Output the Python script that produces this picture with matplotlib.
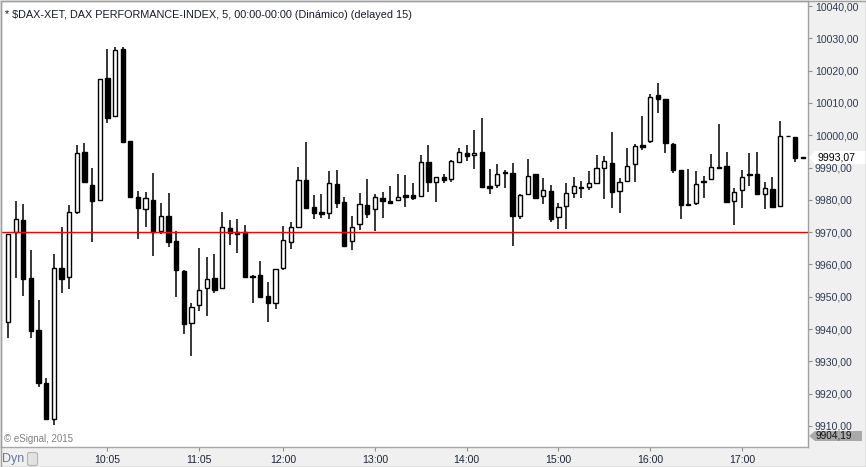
import numpy as np
import matplotlib.pyplot as plt
from matplotlib.patches import Polygon, Rectangle, FancyBboxPatch
from matplotlib.ticker import FuncFormatter

plt.rcParams['font.family'] = ['Liberation Sans', 'DejaVu Sans']

# 5-minute bars, 09:00 .. 17:40
opens = [9942.3, 9970.1, 9973.7, 9955.7, 9939.7, 9923.4, 9912.2, 9958.8, 9956.2, 9976.3,
         9994.7, 9984.6, 9979.8, 10017.6, 10005.9, 10026.6, 9998.2, 9980.8, 9977.1, 9979.8,
         9970.3, 9974.9, 9967.1, 9957.9, 9941.8, 9947.3, 9952.6, 9955.7, 9952.6, 9971.2,
         9969.9, 9969.9, 9956.5, 9956.6, 9950.1, 9948.1, 9958.8, 9966.8, 9971.7, 9986.0,
         9977.7, 9976.1, 9975.8, 9984.8, 9979.2, 9967.2, 9972.4, 9978.3, 9977.1, 9980.5,
         9979.5, 9979.8, 9981.4, 9981.4, 9981.1, 9991.7, 9985.4, 9987.0, 9986.4, 9991.8,
         9994.5, 9993.8, 9994.8, 9984.3, 9984.5, 9988.7, 9988.3, 9975.0, 9981.7, 9988.0,
         9981.1, 9982.8, 9974.6, 9978.0, 9982.1, 9983.9, 9983.9, 9985.3, 9989.7, 9991.3,
         9982.6, 9985.7, 9991.0, 9996.9, 9998.3, 10012.4, 10011.2, 9997.3, 9989.2, 9978.7,
         9978.9, 9985.7, 9986.4, 9990.3, 9990.5, 9979.5, 9983.0, 9988.0, 9988.0, 9981.7,
         9983.2, 9978.0, 9999.9, 9999.4, 9993.07]
highs = [9969.5, 9979.6, 9978.7, 9964.5, 9949.0, 9924.7, 9963.1, 9971.6, 9978.4, 9996.9,
         9997.6, 9989.8, 10017.5, 10026.7, 10027.3, 10027.3, 9998.2, 9982.7, 9982.4, 9988.3,
         9979.0, 9982.1, 9970.3, 9958.3, 9948.0, 9965.1, 9962.3, 9963.2, 9976.2, 9973.7,
         9974.1, 9972.2, 9956.6, 9961.1, 9954.5, 9958.6, 9971.9, 9973.1, 9990.2, 9997.9,
         9981.4, 9981.8, 9988.9, 9989.2, 9980.8, 9975.0, 9982.1, 9986.4, 9981.9, 9982.4,
         9984.3, 9988.0, 9987.7, 9985.2, 9993.8, 9997.1, 9987.0, 9988.0, 9992.2, 9996.1,
         9997.0, 10001.6, 10005.3, 9989.5, 9991.1, 9989.1, 9991.5, 9981.8, 9992.6, 9988.0,
         9986.7, 9984.6, 9978.9, 9985.1, 9987.1, 9985.8, 9988.9, 9993.9, 9993.6, 10001.0,
         9986.9, 9996.0, 9997.3, 10005.9, 10012.8, 10016.2, 10011.2, 9997.6, 9989.2, 9989.5,
         9988.9, 9987.4, 9994.2, 10003.5, 9994.8, 9983.7, 9989.2, 9994.6, 9994.8, 9985.5,
         9987.1, 10004.3, 9999.9, 9999.4, 9993.07]
lows = [9937.3, 9955.9, 9950.3, 9937.1, 9922.1, 9912.2, 9910.3, 9951.2, 9952.5, 9975.5,
        9985.6, 9966.9, 9979.8, 10003.7, 10005.9, 9997.7, 9981.0, 9967.8, 9971.7, 9962.7,
        9969.5, 9965.5, 9950.0, 9938.5, 9931.7, 9945.7, 9944.1, 9951.0, 9952.6, 9966.1,
        9963.5, 9956.1, 9948.1, 9949.7, 9942.3, 9946.3, 9958.4, 9964.9, 9971.4, 9977.2,
        9974.0, 9974.5, 9974.2, 9977.6, 9965.5, 9964.6, 9970.7, 9974.3, 9970.4, 9974.5,
        9979.1, 9979.8, 9977.9, 9980.0, 9981.1, 9982.5, 9979.2, 9985.1, 9985.4, 9991.3,
        9992.0, 9989.6, 9984.1, 9981.9, 9983.6, 9983.8, 9965.6, 9974.0, 9981.7, 9980.6,
        9978.8, 9973.2, 9970.9, 9970.9, 9980.7, 9980.7, 9983.0, 9985.0, 9980.4, 9977.6,
        9976.0, 9985.7, 9985.6, 9995.5, 9997.5, 10007.0, 9994.6, 9988.4, 9974.2, 9978.3,
        9978.5, 9980.7, 9986.4, 9990.0, 9978.9, 9972.3, 9977.6, 9984.4, 9981.4, 9977.1,
        9977.8, 9978.0, 9999.6, 9991.8, 9993.07]
closes = [9969.3, 9974.0, 9955.6, 9939.5, 9923.4, 9912.2, 9958.8, 9955.4, 9976.1, 9994.4,
          9985.6, 9979.7, 10017.3, 10005.4, 10026.3, 9998.0, 9981.0, 9977.4, 9980.5, 9970.0,
          9974.9, 9967.0, 9958.2, 9941.4, 9946.7, 9952.0, 9955.4, 9952.2, 9971.5, 9969.6,
          9969.5, 9956.1, 9956.2, 9950.0, 9948.1, 9958.5, 9967.5, 9971.5, 9986.0, 9977.6,
          9976.0, 9975.7, 9985.1, 9979.1, 9965.8, 9971.7, 9978.6, 9975.5, 9980.8, 9979.7,
          9979.1, 9980.8, 9981.0, 9980.6, 9991.6, 9985.6, 9987.0, 9986.2, 9991.9, 9994.7,
          9993.5, 9994.5, 9984.1, 9983.8, 9987.9, 9988.2, 9975.1, 9981.4, 9987.3, 9980.6,
          9983.0, 9974.1, 9977.7, 9982.0, 9984.2, 9983.6, 9985.1, 9989.7, 9992.0, 9982.5,
          9985.4, 9990.4, 9996.6, 9996.4, 10011.7, 10011.3, 9997.7, 9989.3, 9978.5, 9978.3,
          9984.8, 9985.4, 9990.3, 9990.0, 9979.4, 9982.3, 9987.0, 9987.6, 9981.8, 9983.6,
          9977.8, 9999.7, 9999.6, 9993.0, 9993.07]

time_ticks = [13, 25, 36, 48, 60, 72, 84, 96]
time_labels = ["10:05", "11:05", "12:00", "13:00", "14:00", "15:00", "16:00", "17:00"]
price_ticks = list(range(9910, 10041, 10))
ref_level = 9970
last_price = 9993.07
low_price = 9904.19

W, H = 866, 467
fig = plt.figure(figsize=(W / 100, H / 100), dpi=100, facecolor='#f0f0f0')
ax = fig.add_axes([1 / W, 20 / H, 807 / W, 446 / H])
ax.set_facecolor('white')

o = np.array(opens)
c = np.array(closes)
x = np.arange(len(o))
up = c >= o
body_lo = np.minimum(o, c)
body_h = np.maximum(np.abs(c - o), 0.25)

ax.vlines(x, lows, highs, color='black', linewidth=1.1, zorder=2)
ax.bar(x[up], body_h[up], bottom=body_lo[up], width=0.56, facecolor='white',
       edgecolor='black', linewidth=1.0, zorder=3)
ax.bar(x[~up], body_h[~up], bottom=body_lo[~up], width=0.56, facecolor='black',
       edgecolor='black', linewidth=1.0, zorder=3)

ax.axhline(ref_level, color='#ff0000', linewidth=1.0, zorder=4)

ax.set_xlim(-0.92, 104.66)
ax.set_ylim(9903.47, 10041.55)

ax.yaxis.tick_right()
ax.set_yticks(price_ticks)
ax.yaxis.set_major_formatter(FuncFormatter(lambda v, p: f"{v:.2f}".replace('.', ',')))
ax.tick_params(axis='y', direction='out', length=3, width=0.8, color='#909090',
               labelsize=7.6, labelcolor='#2f3a4f', pad=2)
ax.set_xticks(time_ticks)
ax.set_xticklabels(time_labels)
ax.tick_params(axis='x', direction='out', length=3, width=0.8, color='#909090',
               labelsize=7.6, labelcolor='#1e2535', pad=3)

for s in ['left', 'top', 'right']:
    ax.spines[s].set_color('#a0a0a0')
    ax.spines[s].set_linewidth(1.0)
ax.spines['bottom'].set_color('#a8a8a8')
ax.spines['bottom'].set_linestyle((0, (2, 1)))
ax.spines['bottom'].set_linewidth(1.0)

ax.text(4 / 807, 1 - 14 / 446, "* $DAX-XET, DAX PERFORMANCE-INDEX, 5, 00:00-00:00 (Dinámico) (delayed 15)",
        transform=ax.transAxes, fontsize=7.8, color='#151a2a', va='center', ha='left')
ax.text(3 / 807, 1 - 438 / 446, "© eSignal, 2015", transform=ax.transAxes,
        fontsize=7, color='#808080', va='center', ha='left')


def fpt(px, py):
    return (px / W, 1 - py / H)


# last price marker
yc = 157.5
box = [fpt(809, yc), fpt(815, yc - 6.5), fpt(866, yc - 6.5), fpt(866, yc + 6.5), fpt(815, yc + 6.5)]
fig.add_artist(Polygon(box, closed=True, facecolor='white', edgecolor='none',
                       transform=fig.transFigure, zorder=5))
fig.text(*fpt(817, yc), f"{last_price:.2f}".replace('.', ','), fontsize=7.6,
         color='black', va='center', ha='left', zorder=6)

# low marker
yl = 436
box = [fpt(809, yl), fpt(815, yl - 5), fpt(862, yl - 5), fpt(862, yl + 5), fpt(815, yl + 5)]
fig.add_artist(Polygon(box, closed=True, facecolor='#a9a9a9', edgecolor='none',
                       transform=fig.transFigure, zorder=5))
fig.text(*fpt(816, yl), f"{low_price:.2f}".replace('.', ','), fontsize=7.2,
         color='#101010', va='center', ha='left', zorder=6)

# bottom-left controls
fig.text(*fpt(2, 459), "Dyn", fontsize=9, color='#6878a0', va='center', ha='left')
fig.add_artist(FancyBboxPatch(fpt(27.5, 465.5), 10 / W, 13 / H,
                              boxstyle='round,pad=0,rounding_size=0.003',
                              facecolor='#e2e2e2', edgecolor='#b4b4b4', linewidth=0.8,
                              transform=fig.transFigure, zorder=5))

# outer frame
fig.add_artist(Rectangle((0.5 / W, 0.5 / H), (W - 1) / W, (H - 1) / H, fill=False,
                         edgecolor='#a0a0a0', linewidth=1.0, transform=fig.transFigure, zorder=7))

fig.savefig("out.png", dpi=100, facecolor=fig.get_facecolor())
